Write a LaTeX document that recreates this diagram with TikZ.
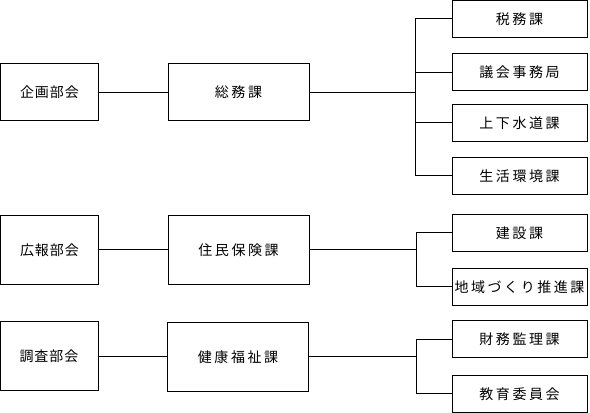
\documentclass[tikz,border=0pt]{standalone}
\usepackage{fontspec}
\setmainfont{Noto Sans CJK JP}
\newfontfamily\jpnarrow[LetterSpace=7]{Noto Sans CJK JP}
\newfontfamily\jpwide[LetterSpace=18]{Noto Sans CJK JP}
\usepackage{tikz}
\usetikzlibrary{positioning}

\begin{document}
\begin{tikzpicture}[
  x=0.75pt, y=-0.75pt,
  every node/.style={font=\fontsize{10.5}{12}\selectfont},
  line width=0.75pt,
  bukai/.style={draw, minimum width=73.5pt, inner sep=0pt, align=center, font=\fontsize{10.5}{12}\selectfont\jpnarrow},
  ka/.style={draw, minimum width=105.75pt, inner sep=0pt, align=center, font=\fontsize{10.5}{12}\selectfont\jpwide},
  sub/.style={draw, minimum width=101.25pt, minimum height=27.75pt, inner sep=0pt, align=center, font=\fontsize{10.5}{12}\selectfont\jpwide},
]
\useasboundingbox (0,0) rectangle (590,413);
% first row
\node[bukai, minimum height=42.75pt] (kikaku) at (49.5,92.5) {企画部会};
\node[ka, minimum height=42.75pt] (somu) at (238.5,92.5) {総務課};
\node[sub] (zeimu) at (519.5,19) {税務課};
\node[sub] (gikai) at (519.5,72.5) {議会事務局};
\node[sub] (gesui) at (519.5,123) {上下水道課};
\node[sub] (seikatsu) at (519.5,176) {生活環境課};
\coordinate (j1) at (415,92.5);
\draw (kikaku) -- (somu);
\draw (somu) -- (j1);
\draw (j1) |- (zeimu.west);
\draw (j1) |- (gikai.west);
\draw (j1) |- (gesui.west);
\draw (j1) |- (seikatsu.west);
% second row
\node[bukai, minimum height=51.75pt] (koho) at (49.5,250) {広報部会};
\node[ka, minimum height=51.75pt] (jumin) at (238.5,250) {住民保険課};
\node[sub] (kensetsu) at (519.5,233) {建設課};
\node[sub] (chiiki) at (519.5,287) {地域づくり推進課};
\coordinate (j2) at (416,250);
\draw (koho) -- (jumin);
\draw (jumin.east) -- (j2);
\draw (j2) |- (kensetsu.west);
\draw (j2) |- (chiiki.west);
% third row
\node[bukai, minimum height=51.75pt] (chosa) at (49,356.5) {調査部会};
\node[ka, minimum height=51.75pt] (kenko) at (238,357) {健康福祉課};
\node[sub] (zaimu) at (519.5,339.5) {財務監理課};
\node[sub] (kyoiku) at (519.5,394) {教育委員会};
\coordinate (j3) at (416,357);
\draw (chosa.east) -- (kenko.west |- chosa.east);
\draw (kenko.east) -- (j3);
\draw (j3) |- (zaimu.west);
\draw (j3) |- (kyoiku.west);
\end{tikzpicture}
\end{document}
